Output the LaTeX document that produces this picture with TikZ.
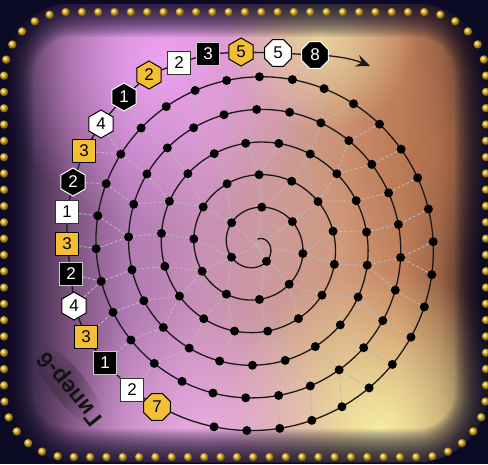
\documentclass[tikz,border=0pt]{standalone}
\usepackage{fontspec}
\setmainfont{Liberation Sans}
\usetikzlibrary{shapes.geometric,decorations.markings,fadings,arrows.meta}

\definecolor{navy}{HTML}{0C0B26}
\definecolor{mkY}{HTML}{F4BE35}
\definecolor{goldd}{HTML}{ECB81E}
\definecolor{c0}{HTML}{1A1428}
\definecolor{c1}{HTML}{3C2A4A}
\definecolor{c2}{HTML}{7A507C}
\definecolor{c3}{HTML}{B07AB4}
\definecolor{c4}{HTML}{C890B8}
\definecolor{c5}{HTML}{CC9A9C}
\definecolor{c6}{HTML}{D09A7C}
\definecolor{c7}{HTML}{C2825E}
\definecolor{c8}{HTML}{9A6448}
\definecolor{c9}{HTML}{4A3028}
\definecolor{c10}{HTML}{1A1218}
\definecolor{bPink}{HTML}{F2A4F6}
\definecolor{bYel}{HTML}{ECDCA0}
\definecolor{bYel2}{HTML}{F8F2A6}
\definecolor{bPink2}{HTML}{F0B0EA}
\definecolor{bOr}{HTML}{B87450}

\pgfdeclarehorizontalshading{bgsh}{100bp}{color(0bp)=(c0); color(25bp)=(c0); color(28bp)=(c1); color(32bp)=(c2); color(38bp)=(c3); color(45.5bp)=(c4); color(52.5bp)=(c5); color(60bp)=(c6); color(66bp)=(c7); color(70bp)=(c8); color(73bp)=(c9); color(75bp)=(c10); color(100bp)=(c10)}

\tikzfading[name=blobfade, inner color=transparent!0, outer color=transparent!100]

\pgfdeclarelayer{bg}
\pgfdeclarelayer{lines}
\pgfdeclarelayer{spl}
\pgfsetlayers{bg,lines,spl,main}

\newcount\Ndots
\newcount\idx
\newcount\mptr

\def\CX{256.5}
\def\CY{245.5}
\def\AA{5.2}
\def\PHI{211.4}
\def\Tend{36.14}

\newcommand\AdvPtr[1]{%
  \loop
    \idx=\mptr \advance\idx by 1
    \edef\sTn{\csname dotT\the\idx\endcsname}%
  \ifdim\sTn pt<#1pt\relax \global\advance\mptr by 1 \repeat}

\newcommand\MkNode[5]{%
  \node[#2] (#1) at (#4,#5) {#3};
  \pgfmathsetmacro\sAl{atan2(#5-\CY,#4-\CX)}%
  \pgfmathsetmacro\sDl{Mod(\sAl-\PHI-deg(\Tend),360)}%
  \pgfmathsetmacro\sTq{\Tend-rad(360-\sDl)}%
  \gdef\bestd{1000}\gdef\bestn{1}%
  \foreach \n in {1,...,\Nd}{%
    \pgfmathsetmacro\sDd{abs(\csname dotT\n\endcsname-\sTq)}%
    \ifdim\sDd pt<\bestd pt\relax \xdef\bestd{\sDd}\xdef\bestn{\n}\fi}%
  \begin{pgfonlayer}{lines}\draw[link] (#1) -- (d\bestn);\end{pgfonlayer}%
}

\begin{document}
\begin{tikzpicture}[x=1pt,y=-1pt,
  mk/.style={inner sep=0pt, line width=1pt, font=\fontsize{17pt}{17pt}\selectfont},
  sqg/.style={mk, rectangle, minimum size=22.5pt},
  sqY/.style={sqg, fill=mkY, draw=black, text=black},
  sqW/.style={sqg, fill=white, draw=black!80, text=black},
  sqB/.style={sqg, fill=black, draw=white!80!black, text=white},
  hexg/.style={mk, regular polygon, regular polygon sides=6, shape border rotate=30, minimum size=28pt},
  hexY/.style={hexg, fill=mkY, draw=black, text=black},
  hexW/.style={hexg, fill=white, draw=black, text=black},
  hexB/.style={hexg, fill=black, draw=white, text=white},
  octg/.style={mk, regular polygon, regular polygon sides=8, minimum size=29pt},
  octY/.style={octg, fill=mkY, draw=black, text=black},
  octW/.style={octg, fill=white, draw=black, text=black},
  octB/.style={octg, fill=black, draw=white, text=white},
  sdot/.style={circle, fill=black, inner sep=0pt, minimum size=9pt},
  link/.style={draw=gray!55!white, line width=0.9pt, dash pattern=on 3pt off 2pt},
  spir/.style={draw=black!90, line width=1.3pt},
  golddot/.style={circle, inner sep=0pt, minimum size=8.5pt, ball color=goldd},
  title/.style={font=\fontsize{23pt}{23pt}\selectfont\bfseries, inner sep=0pt},
  tshadow/.style={ellipse, minimum width=110pt, minimum height=34pt, inner sep=0pt, fill=black, opacity=0.3, path fading=blobfade},
]
\useasboundingbox (0,0) rectangle (488,464);

% ---------- background ----------
\begin{pgfonlayer}{bg}
\fill[navy] (0,0) rectangle (488,464);
\shade[shading=bgsh, rounded corners=72pt] (0,4) rectangle (488,462);
\begin{scope}
  \clip[rounded corners=72pt] (0,4) rectangle (488,462);
  \fill[bOr, opacity=0.65, path fading=blobfade] (425,150) circle (120);
  \fill[bPink, opacity=0.92, path fading=blobfade] (160,60) circle (165);
  \fill[bYel, opacity=0.85, path fading=blobfade] (320,35) circle (95);
  \fill[bYel2, opacity=0.95, path fading=blobfade] (380,430) circle (160);
  \fill[bPink2, opacity=0.85, path fading=blobfade] (200,440) circle (140);
  \foreach \w in {3,6,...,66}
    \draw[navy, opacity=0.07, line width=\w pt, rounded corners=72pt] (0,4) rectangle (488,462);
\end{scope}
\path[decorate, decoration={markings, mark=between positions 0 and 1 step 16.3pt with {\node[golddot] {};}}]
  (245,12) -- (422,12) arc[start angle=-90, end angle=0, radius=64]
  -- (486,393) arc[start angle=0, end angle=90, radius=64]
  -- (68,457) arc[start angle=90, end angle=180, radius=64]
  -- (4,76) arc[start angle=180, end angle=270, radius=64] -- cycle;
\end{pgfonlayer}

% ---------- spiral dots ----------
\coordinate (ctr) at (\CX,\CY);
\def\tcur{3.6}
\global\Ndots=0
\loop
  \global\advance\Ndots by 1
  \expandafter\xdef\csname dotT\the\Ndots\endcsname{\tcur}%
  \pgfmathsetmacro\tnext{\tcur+33/(\AA*sqrt(\tcur*\tcur+1))}%
  \xdef\tcur{\tnext}%
\ifdim\tcur pt<35.9pt\repeat
\edef\Nd{\the\Ndots}

\foreach \n in {1,...,\Nd}{%
  \pgfmathsetmacro\tv{\csname dotT\n\endcsname}%
  \node[sdot] (d\n) at ({\CX+\AA*\tv*cos(deg(\tv)+\PHI)},{\CY+\AA*\tv*sin(deg(\tv)+\PHI)}) {};
}

% ---------- web links between turns ----------
\global\mptr=1
\foreach \n in {1,...,\Nd}{%
  \pgfmathsetmacro\sTg{\csname dotT\n\endcsname-2*pi}%
  \ifdim\sTg pt<\csname dotT1\endcsname pt\relax
    \begin{pgfonlayer}{lines}\draw[link] (d\n) -- (ctr);\end{pgfonlayer}%
  \else
    \AdvPtr{\sTg}%
    \pgfmathsetmacro\sDa{\sTg-\csname dotT\the\mptr\endcsname}%
    \pgfmathsetmacro\sDb{\sTn-\sTg}%
    \ifdim\sDa pt<\sDb pt\relax \edef\sTgt{\the\mptr}\else \edef\sTgt{\the\idx}\fi
    \begin{pgfonlayer}{lines}\draw[link] (d\n) -- (d\sTgt);\end{pgfonlayer}%
  \fi
}

% ---------- markers ----------
\MkNode{m1}{octY}{7}{157}{407}
\MkNode{m2}{sqW}{2}{132}{390}
\MkNode{m3}{sqB}{1}{105}{363}
\MkNode{m4}{sqY}{3}{86}{337}
\MkNode{m5}{hexW}{4}{74}{306}
\MkNode{m6}{sqB}{2}{71}{274}
\MkNode{m7}{sqY}{3}{67}{244}
\MkNode{m8}{sqW}{1}{67}{212}
\MkNode{m9}{hexB}{2}{73}{182}
\MkNode{m10}{sqY}{3}{84}{151}
\MkNode{m11}{hexW}{4}{101}{124}
\MkNode{m12}{hexB}{1}{124}{97}
\MkNode{m13}{hexY}{2}{149}{75}
\MkNode{m14}{sqW}{2}{179}{63}
\MkNode{m15}{sqB}{3}{208}{54}
\MkNode{m16}{hexY}{5}{241}{52}
\MkNode{m17}{octW}{5}{278}{53}
\MkNode{m18}{octB}{8}{315}{55}
\coordinate (tip) at (370,66);

% ---------- spiral curve and chain ----------
\begin{pgfonlayer}{spl}
\draw[spir] plot[domain=1.2:\Tend, samples=700, variable=\t]
  ({\CX+\AA*\t*cos(deg(\t)+\PHI)},{\CY+\AA*\t*sin(deg(\t)+\PHI)}) -- (m1);
\draw[spir] (m1) -- (m2) -- (m3) -- (m4) -- (m5) -- (m6) -- (m7) -- (m8) -- (m9)
  -- (m10) -- (m11) -- (m12) -- (m13) -- (m14) -- (m15) -- (m16) -- (m17) -- (m18);
\draw[spir, -{Stealth[length=14pt, width=12pt, inset=5pt]}] (m18) to[bend left=8] (tip);
\end{pgfonlayer}

% ---------- title with soft shadow ----------
\coordinate (tA) at (102,426);
\coordinate (tB) at (40,350);
\coordinate (sA) at (99,423);
\coordinate (sB) at (37,347);
\path (sA) -- node[sloped, allow upside down, tshadow] (tshd) {} (sB);
\path (tA) -- node[title, sloped, allow upside down, text=black!92] (ttl) {Гипер-6} (tB);
\end{tikzpicture}
\end{document}
